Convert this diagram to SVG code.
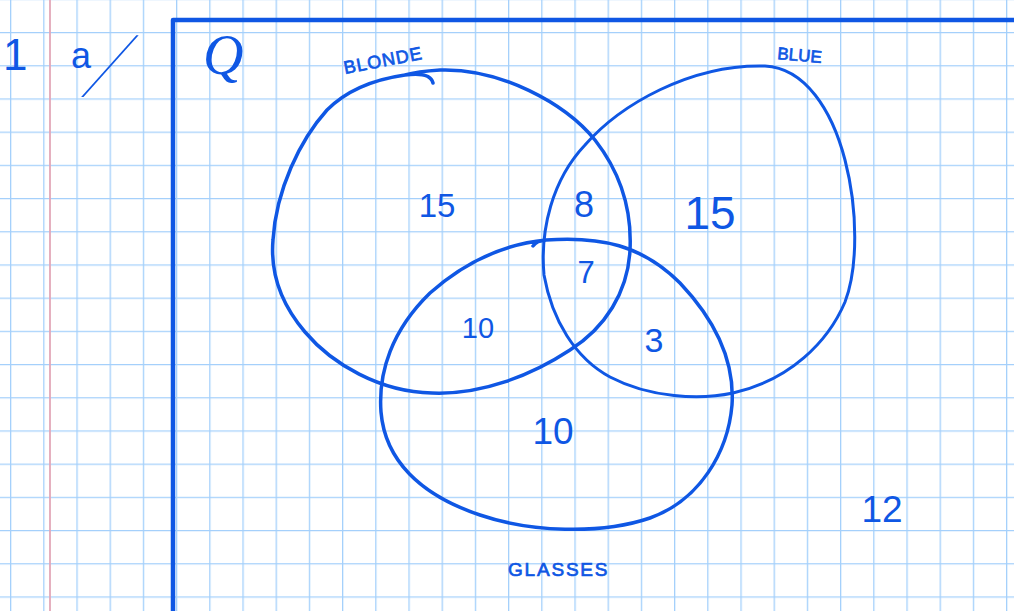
<svg xmlns="http://www.w3.org/2000/svg" width="1014" height="611" viewBox="0 0 1014 611">
<defs>
<pattern id="grid" x="10" y="-1.2" width="33.2" height="33.2" patternUnits="userSpaceOnUse">
<path d="M0.5 0 V33.2 M0 0.5 H33.2" fill="none" stroke="#a4d0fb" stroke-width="1.6"/>
</pattern>
</defs>
<style>
.ink{fill:none;stroke:#0f57e4;stroke-linecap:round;stroke-linejoin:round}
.lbl{fill:#0f57e4;font-family:"Liberation Sans",Arial,sans-serif}
.tag{fill:#0f57e4;stroke:#0f57e4;stroke-width:0.7;font-family:"Liberation Sans",Arial,sans-serif}
.num{fill:#0f57e4;font-family:"Liberation Sans",Arial,sans-serif;text-anchor:middle}
</style>
<rect width="1014" height="611" fill="#ffffff"/>
<rect width="1014" height="611" fill="url(#grid)"/>
<line x1="50" y1="0" x2="50" y2="611" stroke="#e3a7b8" stroke-width="1.8"/>
<g id="frame">
<path class="ink" d="M173 611 V20 H1014" stroke-width="4.5" stroke-linecap="butt" stroke-linejoin="miter"/>
</g>
<g id="heading">
<text class="lbl" x="3" y="70" font-size="44">1</text>
<text class="lbl" x="71" y="68" font-size="36">a</text>
<text class="lbl" transform="translate(82,92) skewX(-27)" font-size="80" style="font-family:Roboto,'Liberation Sans',sans-serif" font-weight="100">/</text>
<text class="lbl" x="203" y="74" font-size="56" style="font-family:'Liberation Serif',serif" font-style="italic">Q</text>
</g>
<g id="connectors">
<path id="blonde-set" class="ink" stroke-width="3.5" d="M433 83 C431 74 420 73 405 75 C370 80 345 92 327 110 C300 140 276 190 273 240 C270 275 282 305 305 332 C332 364 380 392 432 393 C482 395 532 375 570 350 C605 328 628 292 630 250 C632 210 620 172 595 140 C565 103 500 68 440 70 C425 71 412 73 405 75"/>
<path id="blue-set" class="ink" stroke-width="3" d="M765 66 C805 68 832 110 845 160 C858 210 858 268 845 302 C828 342 790 380 733 393 C700 400 650 398 610 377 C575 358 552 320 544 275 C540 230 552 180 585 145 C620 105 690 64 765 66 Z"/>
<path id="glasses-set" class="ink" stroke-width="3.5" d="M533 246 C537 241 540 241 546 240 C600 236 642 245 680 283 C715 320 735 360 732 405 C728 452 700 500 650 518 C600 535 530 532 480 515 C420 495 385 460 381 412 C378 372 392 330 430 293 C465 262 505 244 546 240"/>
</g>
<g id="label-blonde"><text class="tag" font-size="18" letter-spacing="1" transform="translate(345,74) rotate(-11)">BLONDE</text></g>
<g id="label-blue"><text class="tag" font-size="17" transform="translate(777,59) rotate(5)">BLUE</text></g>
<g id="label-glasses"><text class="tag" font-size="19" letter-spacing="1.8" x="508" y="576">GLASSES</text></g>
<g id="region-blonde-only"><text class="num" x="437" y="217" font-size="33">15</text></g>
<g id="region-blonde-blue"><text class="num" x="584" y="217" font-size="36">8</text></g>
<g id="region-blue-only"><text class="num" x="710" y="229" font-size="46">15</text></g>
<g id="region-all"><text class="num" x="586" y="283" font-size="31">7</text></g>
<g id="region-blonde-glasses"><text class="num" x="478" y="338" font-size="29">10</text></g>
<g id="region-blue-glasses"><text class="num" x="654" y="352" font-size="34">3</text></g>
<g id="region-glasses-only"><text class="num" x="553" y="444" font-size="37">10</text></g>
<g id="region-none"><text class="num" x="882" y="522" font-size="37">12</text></g>
</svg>
